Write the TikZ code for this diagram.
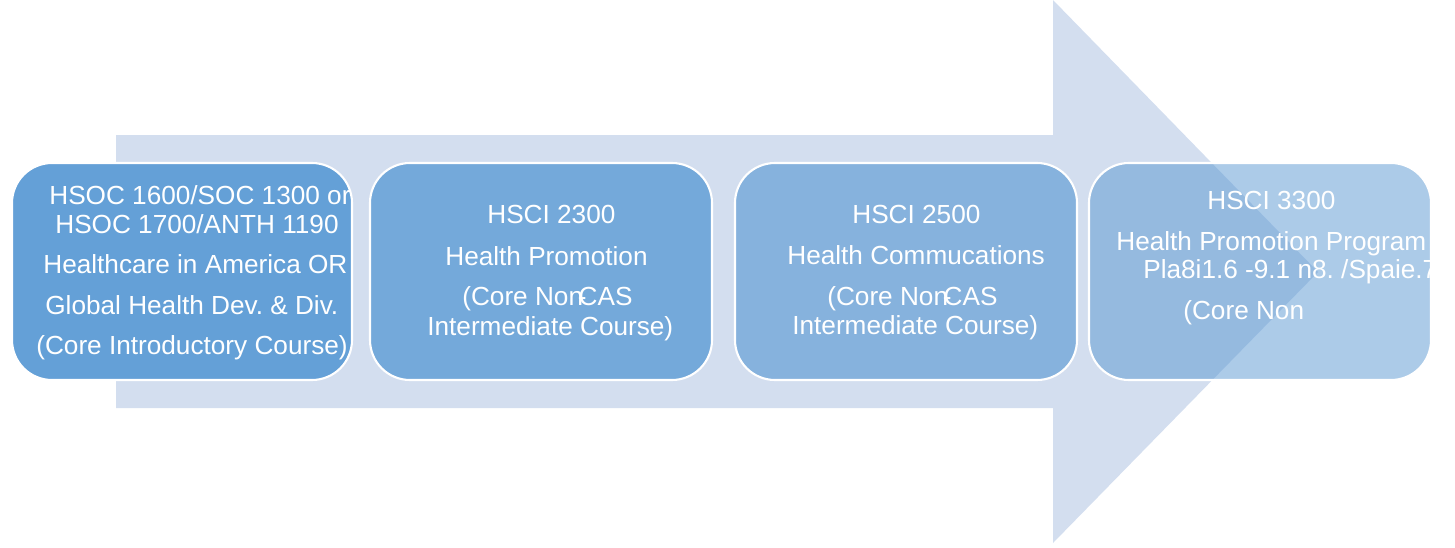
\documentclass[tikz,border=0pt]{standalone}
\usepackage{fontspec}
\setmainfont{Liberation Sans}
\frenchspacing
\definecolor{arrowcol}{RGB}{211,222,239}
\definecolor{boxa}{RGB}{100,160,215}
\definecolor{boxb}{RGB}{116,169,218}
\definecolor{boxc}{RGB}{134,178,221}
\definecolor{boxd}{RGB}{89,151,209}
\begin{document}
\begin{tikzpicture}[x=0.02cm,y=-0.02cm,
  course/.style={draw=white,line width=1.2pt,rounded corners=0.8cm},
  txt/.style={anchor=base west,inner sep=0pt,text=white,font=\fontsize{14.9pt}{17pt}\selectfont}]
\useasboundingbox (0,0) rectangle (1455,548);
% big arrow
\fill[arrowcol] (116,135) -- (1053,135) -- (1053,0) -- (1318,272) -- (1053,543) -- (1053,408) -- (116,408) -- cycle;
% boxes
\path[course,fill=boxa] (12,163) rectangle (352,380);
\path[course,fill=boxb] (370,163) rectangle (712,380);
\path[course,fill=boxc] (735,163) rectangle (1077,380);
\path[course,fill=boxd,fill opacity=0.5] (1089,163) rectangle (1431,380);
% box 1 text
\begin{scope}
\clip[rounded corners=0.8cm] (12,163) rectangle (351,380);
\node[txt] (a1) at (49,204) {HSOC 1600/SOC 1300 or};
\node[txt] (a2) at (55,233) {HSOC 1700/ANTH 1190};
\node[txt] (a3) at (43,273) {Healthcare in America OR};
\node[txt] (a4) at (45,314) {Global Health Dev. \& Div.};
\node[txt] (a5) at (36,354) {(Core Introductory Course)};
\end{scope}
% box 2 text
\node[txt] (b1) at (487,223) {HSCI 2300};
\node[txt] (b2) at (445,265) {Health Promotion};
\node[txt] (b3) at (462,305) {(Core Non\kern-0.2em-\kern-0.3emCAS};
\node[txt] (b4) at (427,335) {Intermediate Course)};
% box 3 text
\node[txt] (c1) at (852,223) {HSCI 2500};
\node[txt] (c2) at (787,264) {Health Commucations};
\node[txt] (c3) at (827,305) {(Core Non\kern-0.2em-\kern-0.3emCAS};
\node[txt] (c4) at (792,334) {Intermediate Course)};
% box 4 text
\begin{scope}
\clip[rounded corners=0.8cm] (1089,163) rectangle (1431,380);
\node[txt] (d1) at (1207,209) {HSCI 3300};
\node[txt] (d2) at (1116,250) {Health Promotion Program};
\node[txt] (d3) at (1143,278) {Pla8i1.6 -9.1 n8. /Spaie.7};
\node[txt] (d4) at (1183,319) {(Core Non};
\end{scope}
\end{tikzpicture}
\end{document}
